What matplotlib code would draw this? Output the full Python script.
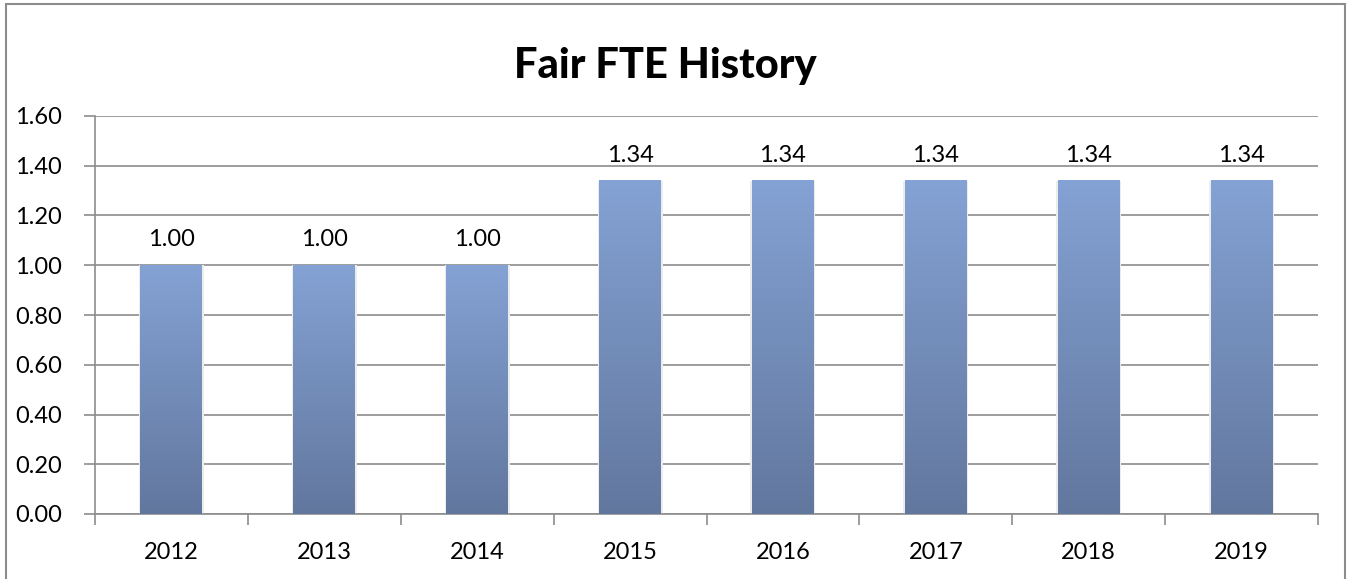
"""Recreate the Fair FTE History column chart."""

import matplotlib.pyplot as plt
import numpy as np
from matplotlib.colors import LinearSegmentedColormap
from matplotlib.patches import Rectangle

years = ["2012", "2013", "2014", "2015", "2016", "2017", "2018", "2019"]
fte = [1.00, 1.00, 1.00, 1.34, 1.34, 1.34, 1.34, 1.34]

plt.rcParams["font.family"] = ["Lato", "DejaVu Sans"]

fig = plt.figure(figsize=(13.48, 5.79), dpi=100)
ax = fig.add_axes([95 / 1348, 1 - 514 / 579, (1318 - 95) / 1348, (514 - 116) / 579])

grid_color = "#8c8c8c"
cmap = LinearSegmentedColormap.from_list("bar", ["#62779e", "#84a2d4"])
gradient = np.linspace(0, 1, 256).reshape(-1, 1)

x = np.arange(len(years))
width = 0.405
bars = ax.bar(x, fte, width=width, color="none", edgecolor="none", zorder=3)
for bar, val in zip(bars, fte):
    bx = bar.get_x()
    # faint shadow around the column
    ax.add_patch(Rectangle((bx - 0.01, 0), width + 0.02, val,
                           facecolor="#ececec", edgecolor="none", zorder=2))
    ax.imshow(gradient, cmap=cmap, origin="lower", aspect="auto",
              extent=(bx, bx + width, 0, val), zorder=3)
    ax.text(bar.get_x() + width / 2, val + 0.06, f"{val:.2f}",
            ha="center", va="bottom", fontsize=17, color="#000000")

ax.set_xlim(-0.5, len(years) - 0.5)
ax.set_ylim(0, 1.6)
ax.set_yticks(np.arange(0, 1.61, 0.2))
ax.set_yticklabels([f"{v:.2f}" for v in np.arange(0, 1.61, 0.2)], fontsize=17)
ax.yaxis.grid(True, color=grid_color, linewidth=1.2, zorder=0)
ax.set_axisbelow(True)

ax.set_xticks(x)
ax.set_xticklabels(years, fontsize=17)
ax.set_xticks(np.arange(-0.5, len(years), 1), minor=True)
ax.tick_params(axis="x", which="major", length=0, pad=20)
ax.tick_params(axis="x", which="minor", length=8, color=grid_color, width=1.2)
ax.tick_params(axis="y", length=8, color=grid_color, width=1.2, pad=16)

for side in ["top", "right"]:
    ax.spines[side].set_visible(False)
for side in ["left", "bottom"]:
    ax.spines[side].set_color(grid_color)
    ax.spines[side].set_linewidth(1.2)

fig.text(665 / 1348, 1 - 66 / 579, "Fair FTE History", ha="center", va="center",
         fontsize=30, fontweight="black")

border = Rectangle((6 / 1348, -0.05), (1345 - 6) / 1348, 1.05 - 4 / 579,
                   transform=fig.transFigure, fill=False, edgecolor="#8c8c8c",
                   linewidth=1.5, clip_on=False)
fig.patches.append(border)

fig.savefig("out.png", dpi=100)
